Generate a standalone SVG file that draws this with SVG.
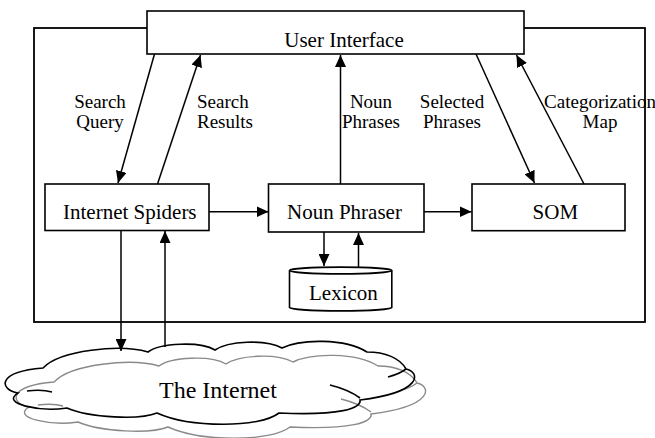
<svg xmlns="http://www.w3.org/2000/svg" width="655" height="438" viewBox="0 0 655 438" font-family="'Liberation Serif', 'Times New Roman', 'DejaVu Serif', serif">
<style>
.box{fill:#fff;stroke:#000;stroke-width:1.6}
.frame{fill:none;stroke:#000;stroke-width:1.8}
text{font-family:'Liberation Serif','Times New Roman','DejaVu Serif',serif;fill:#000}
.t{font-size:21px}
.lbl{font-size:19px}
.big{font-size:24px}
.c{fill:none;stroke:#000;stroke-width:1.5}
.cloudK{fill:none;stroke:#000;stroke-width:1.6}
.cloudG{fill:none;stroke:#8a8a8a;stroke-width:1.4}
</style>
<defs>
<marker id="ah" markerUnits="userSpaceOnUse" markerWidth="12" markerHeight="11" refX="12" refY="5.5" orient="auto">
<path d="M0,0 L12,5.5 L0,11 z" fill="#000"/>
</marker>
<g id="cloudShape">
<path d="M43,368 C60,350 120,344 148,352 C160,343 200,341 215,350 C228,341 265,339 282,348 C300,339 345,338 367,352 C385,352 400,358 406,369 C420,372 424,392 360,400 C362,408 340,416 279,413 C260,428 190,428 157,413 C140,420 90,418 67,408 C40,412 0,404 18,393 C0,390 -5,372 43,368 Z"/>
<path d="M27,391 C35,390 45,390 52,392"/>
<path d="M330,385 C342,388 352,392 360,398"/>
<path d="M388,377 C396,375 402,372 406,369"/>
</g>
</defs>
<rect class="frame" x="34" y="28" width="611" height="294"/>
<g id="cloud">
<use href="#cloudShape" class="cloudG" transform="translate(11,14)"/>
<use href="#cloudShape" class="cloudK"/>
<text class="big" x="159" y="398">The Internet</text>
</g>
<g id="connectors">
<line class="c" x1="154.5" y1="54" x2="118" y2="183" marker-end="url(#ah)"/>
<line class="c" x1="157.5" y1="184" x2="200.5" y2="55" marker-end="url(#ah)"/>
<line class="c" x1="340.5" y1="184" x2="340.5" y2="55" marker-end="url(#ah)"/>
<line class="c" x1="476" y1="54" x2="534.5" y2="183" marker-end="url(#ah)"/>
<line class="c" x1="584" y1="184" x2="516.5" y2="55" marker-end="url(#ah)"/>
<line class="c" x1="209" y1="211.7" x2="268.5" y2="211.7" marker-end="url(#ah)"/>
<line class="c" x1="424" y1="211.7" x2="471.5" y2="211.7" marker-end="url(#ah)"/>
<line class="c" x1="324" y1="232" x2="324" y2="266" marker-end="url(#ah)"/>
<line class="c" x1="358.5" y1="267" x2="358.5" y2="233" marker-end="url(#ah)"/>
<line class="c" x1="121" y1="230" x2="121" y2="351" marker-end="url(#ah)"/>
<line class="c" x1="165" y1="347" x2="165" y2="231" marker-end="url(#ah)"/>
<text class="lbl" text-anchor="middle" x="100" y="108">Search</text>
<text class="lbl" text-anchor="middle" x="100" y="128">Query</text>
<text class="lbl" x="197" y="108">Search</text>
<text class="lbl" x="197" y="128">Results</text>
<text class="lbl" text-anchor="middle" x="371" y="108">Noun</text>
<text class="lbl" text-anchor="middle" x="371" y="128">Phrases</text>
<text class="lbl" text-anchor="middle" x="452" y="108">Selected</text>
<text class="lbl" text-anchor="middle" x="452" y="128">Phrases</text>
<text class="lbl" text-anchor="middle" x="600" y="108">Categorization</text>
<text class="lbl" text-anchor="middle" x="600" y="128">Map</text>
</g>
<g id="ui">
<rect class="box" x="147" y="11" width="377" height="43"/>
<text class="t" x="344" y="47" text-anchor="middle">User Interface</text>
</g>
<g id="spiders">
<rect class="box" x="45" y="184" width="164" height="46.5"/>
<text class="t" x="63" y="219">Internet Spiders</text>
</g>
<g id="phraser">
<rect class="box" x="268.5" y="184" width="155.5" height="48"/>
<text class="t" x="287" y="219">Noun Phraser</text>
</g>
<g id="som">
<rect class="box" x="472" y="184" width="153" height="46.7"/>
<text class="t" x="532.6" y="219">SOM</text>
</g>
<g id="lexicon">
<path class="box" d="M289.5,270.5 L289.5,307.5 A51.2,3.5 0 0 0 391.8,307.5 L391.8,270.5 A51.2,3.5 0 0 0 289.5,270.5 Z"/>
<path class="box" d="M289.5,270.5 A51.2,3.5 0 0 0 391.8,270.5" fill="none"/>
<text class="t" x="309" y="300">Lexicon</text>
</g>
</svg>
